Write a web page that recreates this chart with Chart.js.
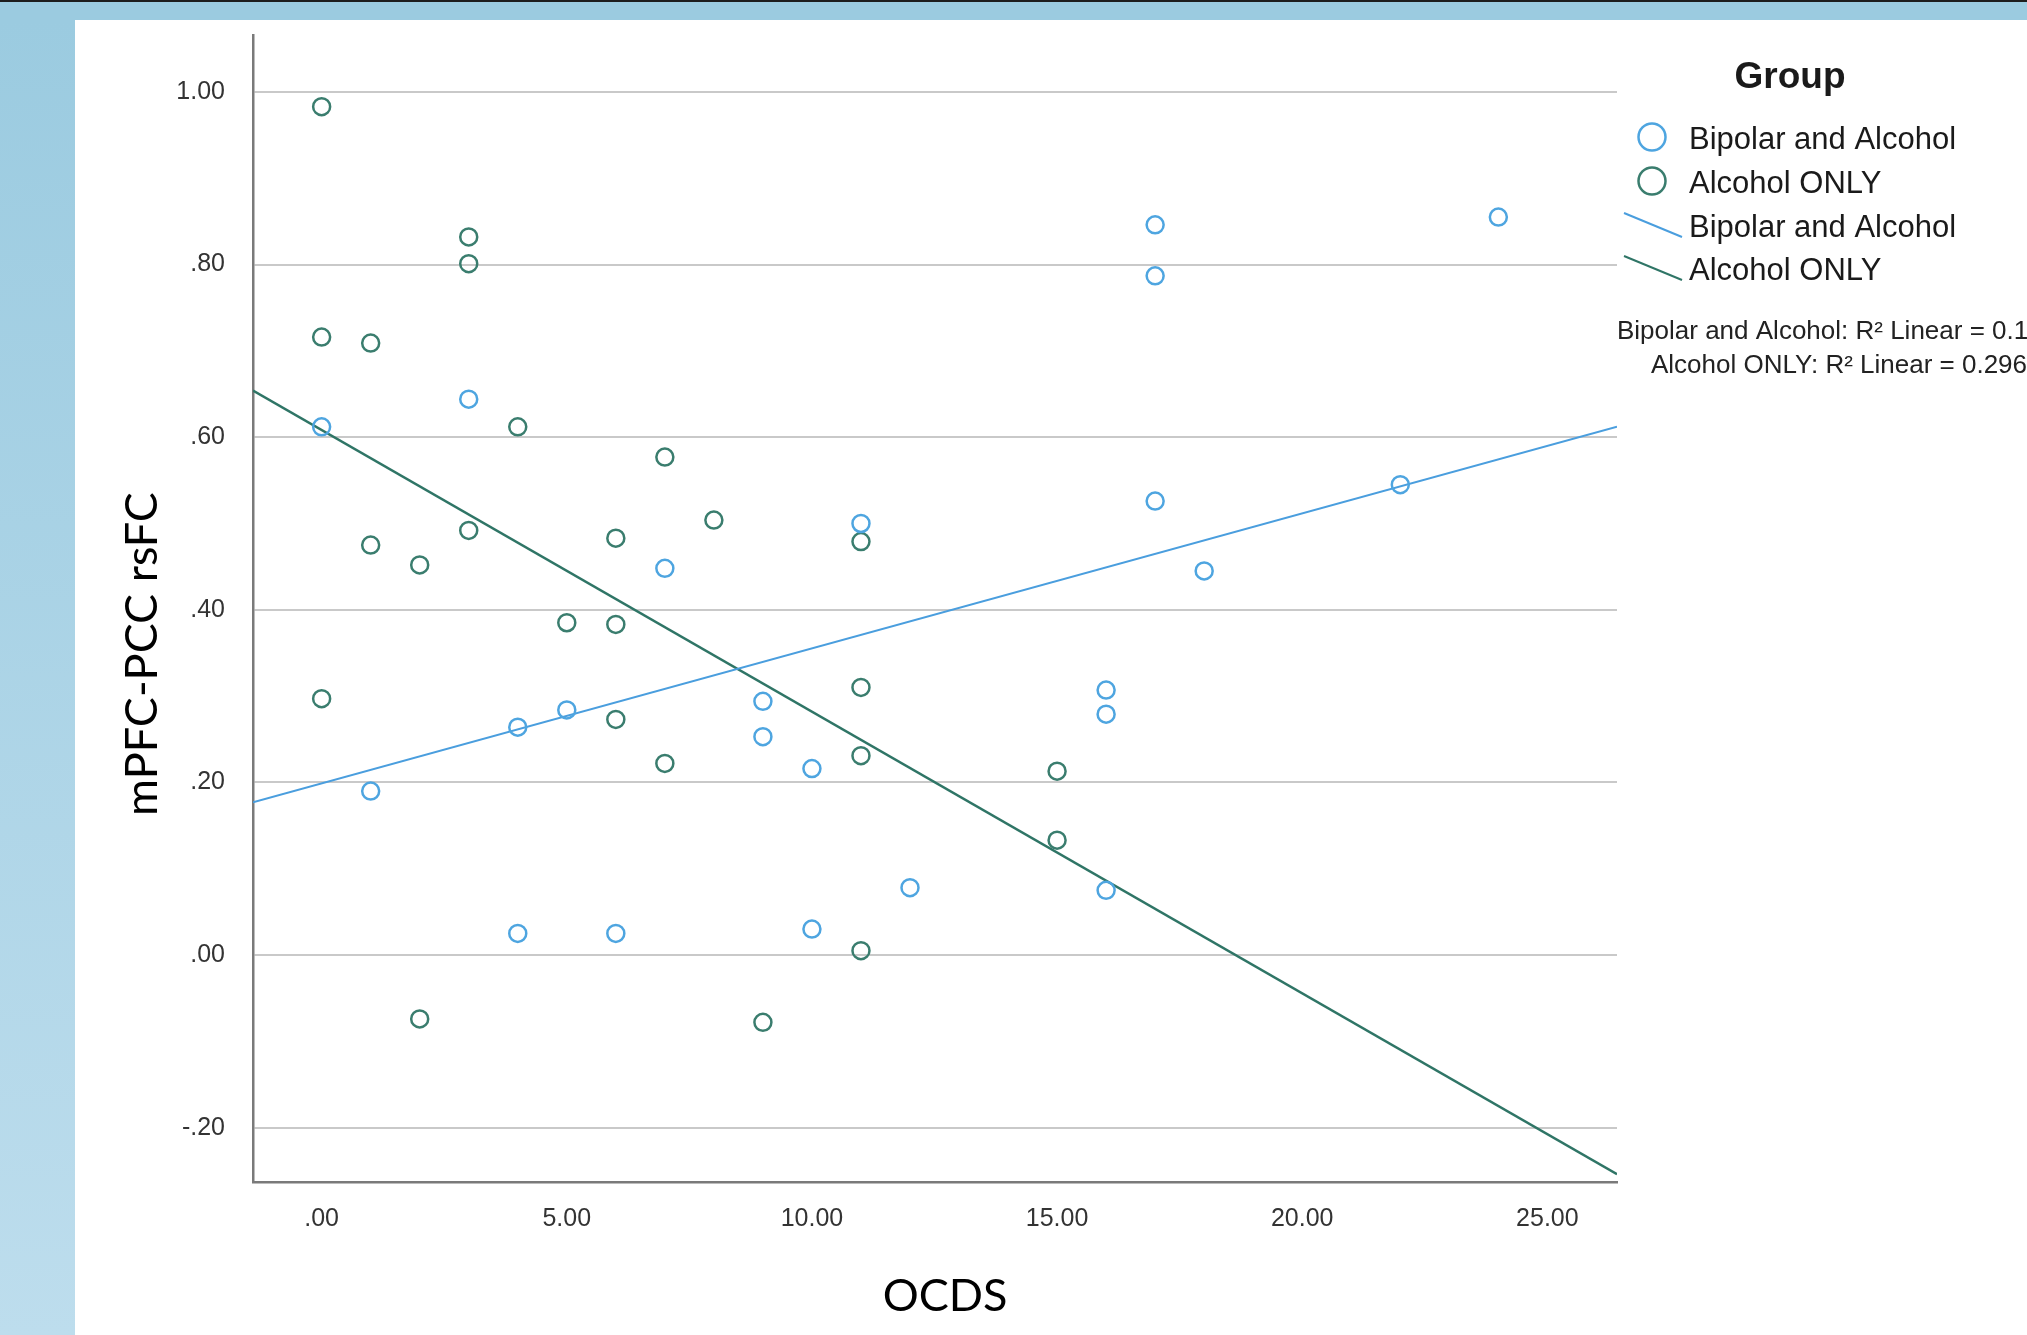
<!DOCTYPE html>
<html>
<head>
<meta charset="utf-8">
<script src="https://cdn.jsdelivr.net/npm/chart.js@4.4.0/dist/chart.umd.min.js"></script>
<style>
  html, body { margin: 0; padding: 0; }
  body { width: 2027px; height: 1335px; position: relative; overflow: hidden; background: #fff; }
  #topband { position: absolute; left: 0; top: 0; width: 2027px; height: 20px; background: #9bcbe0; border-top: 2px solid #1d1d1d; box-sizing: border-box; }
  #sideband { position: absolute; left: 0; top: 20px; width: 75px; height: 1315px; background: linear-gradient(#9bcbe0, #bddded); }
  #wrap { position: absolute; left: 0; top: 0; width: 2027px; height: 1335px; }
</style>
</head>
<body>
<div id="topband"></div>
<div id="sideband"></div>
<div id="wrap"><canvas id="scatter"></canvas></div>
<script>
// values
const groups = ['Bipolar and Alcohol', 'Alcohol ONLY'];

const bipolarX = [0, 3, 17, 17, 24, 17, 22, 18, 11, 7, 4, 5, 9, 9, 10, 16, 16, 1, 12, 16, 4, 6, 10];
const bipolarY = [0.612, 0.644, 0.846, 0.787, 0.855, 0.526, 0.545, 0.445, 0.500, 0.448, 0.264, 0.284,
  0.294, 0.253, 0.216, 0.307, 0.279, 0.190, 0.078, 0.075, 0.025, 0.025, 0.030];

const alcoholX = [0, 3, 3, 0, 1, 4, 7, 8, 3, 6, 1, 2, 11, 5, 6, 0, 6, 11, 7, 11, 15, 15, 11, 2, 9];
const alcoholY = [0.983, 0.832, 0.801, 0.716, 0.709, 0.612, 0.577, 0.504, 0.492, 0.483, 0.475, 0.452,
  0.479, 0.385, 0.383, 0.297, 0.273, 0.310, 0.222, 0.231, 0.213, 0.133, 0.005, -0.074, -0.078];

// fit lines, ends at the plot edges
const fitX = [-1.4, 26.42];
const bipolarFitY = [0.177, 0.612];
const alcoholFitY = [0.654, -0.254];

const xTicks = [0, 5, 10, 15, 20, 25];
const xTickLabels = ['.00', '5.00', '10.00', '15.00', '20.00', '25.00'];
const yTicks = [-0.2, 0, 0.2, 0.4, 0.6, 0.8, 1.0];
const yTickLabels = ['-.20', '.00', '.20', '.40', '.60', '.80', '1.00'];

const xTitle = 'OCDS';
const yTitle = 'mPFC-PCC rsFC';
const legendTitle = 'Group';
const r2Lines = ['Bipolar and Alcohol: R\u00b2 Linear = 0.1', 'Alcohol ONLY: R\u00b2 Linear = 0.296'];

const blue = '#4ea5e0';
const green = '#3a7d6e';
const blueLine = '#4a9ede';
const greenLine = '#2f7566';

const pts = (xs, ys) => xs.map((x, i) => ({ x, y: ys[i] }));

const tickFont = { family: 'Liberation Sans, Arial, sans-serif', size: 25 };

const annotations = {
  id: 'annotations',
  afterDraw(chart) {
    const ctx = chart.ctx;
    const area = chart.chartArea;
    ctx.save();

    // axis titles
    ctx.fillStyle = '#000';
    ctx.font = '45px Lato, "Open Sans", sans-serif';
    ctx.textAlign = 'center';
    ctx.textBaseline = 'alphabetic';
    ctx.fillText(xTitle, 945, 1311);
    ctx.save();
    ctx.translate(157, 654);
    ctx.rotate(-Math.PI / 2);
    ctx.fillText(yTitle, 0, 0);
    ctx.restore();

    // legend
    ctx.fillStyle = '#1a1a1a';
    ctx.font = 'bold 37px "Liberation Sans", Arial, sans-serif';
    ctx.fillText(legendTitle, 1790, 88);

    ctx.textAlign = 'left';
    ctx.font = '31px "Liberation Sans", Arial, sans-serif';
    const rows = [149, 193, 237, 280];
    [blue, green].forEach((c, i) => {
      ctx.beginPath();
      ctx.arc(1652, rows[i] - 12, 13.5, 0, Math.PI * 2);
      ctx.strokeStyle = c;
      ctx.lineWidth = 2.5;
      ctx.stroke();
      ctx.fillText(groups[i], 1689, rows[i]);
    });
    [blueLine, greenLine].forEach((c, i) => {
      const y = rows[i + 2] - 12;
      ctx.beginPath();
      ctx.moveTo(1624, y - 12);
      ctx.lineTo(1682, y + 12);
      ctx.strokeStyle = c;
      ctx.lineWidth = 2;
      ctx.stroke();
      ctx.fillText(groups[i], 1689, rows[i + 2]);
    });

    // R squared notes
    ctx.fillStyle = '#222';
    ctx.font = '26px "Liberation Sans", Arial, sans-serif';
    ctx.fillText(r2Lines[0], area.right, 339);
    ctx.fillText(r2Lines[1], area.right + 34, 373);
    ctx.restore();
  }
};

new Chart(document.getElementById('scatter'), {
  type: 'scatter',
  data: {
    datasets: [
      {
        label: groups[0],
        data: pts(bipolarX, bipolarY),
        borderColor: blue,
        backgroundColor: 'rgba(0,0,0,0)',
        pointRadius: 8.5,
        pointBorderWidth: 2.5
      },
      {
        label: groups[1],
        data: pts(alcoholX, alcoholY),
        borderColor: green,
        backgroundColor: 'rgba(0,0,0,0)',
        pointRadius: 8.5,
        pointBorderWidth: 2.5
      },
      {
        type: 'line',
        label: groups[0] + ' fit',
        data: pts(fitX, bipolarFitY),
        borderColor: blueLine,
        borderWidth: 2,
        pointRadius: 0,
        fill: false
      },
      {
        type: 'line',
        label: groups[1] + ' fit',
        data: pts(fitX, alcoholFitY),
        borderColor: greenLine,
        borderWidth: 2.5,
        pointRadius: 0,
        fill: false
      }
    ]
  },
  options: {
    responsive: true,
    maintainAspectRatio: false,
    devicePixelRatio: 1,
    animation: false,
    events: [],
    layout: { padding: { left: 0, top: 35, right: 410, bottom: 0 } },
    plugins: {
      legend: { display: false },
      tooltip: { enabled: false }
    },
    scales: {
      x: {
        type: 'linear',
        min: fitX[0],
        max: fitX[1],
        afterFit: s => { s.height = 153; s.paddingLeft = 0; s.paddingRight = 0; },
        afterBuildTicks: s => { s.ticks = xTicks.map(v => ({ value: v })); },
        grid: { display: false, drawTicks: false },
        border: { display: true, color: '#7a7a7a', width: 2.5 },
        ticks: {
          padding: 22,
          color: '#333',
          font: tickFont,
          maxRotation: 0,
          callback: (v, i) => xTickLabels[i]
        }
      },
      y: {
        type: 'linear',
        min: -0.263,
        max: 1.066,
        // the tick padding would otherwise push the plot top down
        afterFit: s => { s.width = 253; s.paddingTop = 0; s.paddingBottom = 0; },
        afterBuildTicks: s => { s.ticks = yTicks.map(v => ({ value: v })); },
        grid: { color: '#c9c9c9', lineWidth: 2, drawTicks: false },
        border: { display: true, color: '#7a7a7a', width: 2.5 },
        ticks: {
          padding: 28,
          color: '#333',
          font: tickFont,
          callback: (v, i) => yTickLabels[i]
        }
      }
    }
  },
  plugins: [annotations]
});
</script>
</body>
</html>
